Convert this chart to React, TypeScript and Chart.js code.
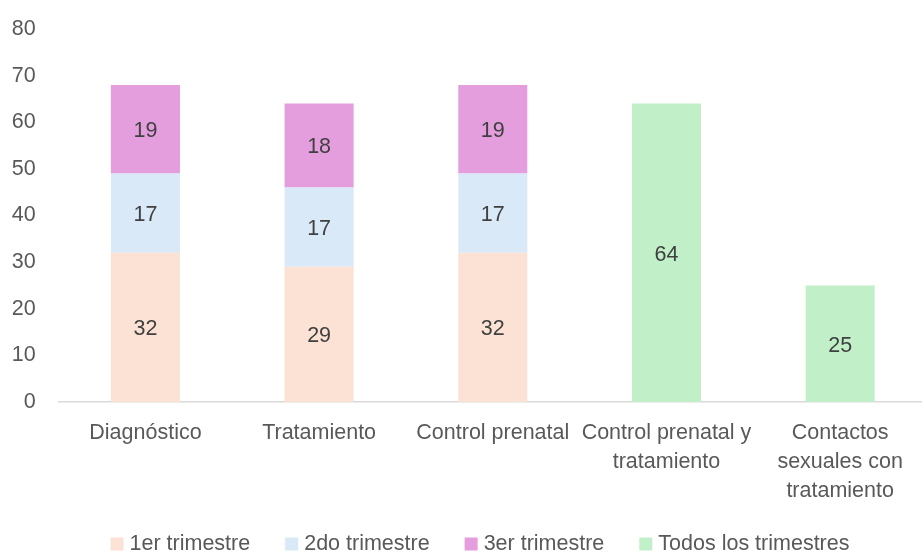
import React, { useEffect, useRef } from "react";
import { Chart, registerables } from "chart.js";

Chart.register(...registerables);

const categories: (string | string[])[] = [
  "Diagnóstico",
  "Tratamiento",
  "Control prenatal",
  ["Control prenatal y", "tratamiento"],
  ["Contactos", "sexuales con", "tratamiento"],
];
const primerTrimestre = [32, 29, 32, null, null];
const segundoTrimestre = [17, 17, 17, null, null];
const tercerTrimestre = [19, 18, 19, null, null];
const todosTrimestres = [null, null, null, 64, 25];
const yTicks = [0, 10, 20, 30, 40, 50, 60, 70, 80];

const FONT = "'Liberation Sans', Arial, sans-serif";
const FONT_SIZE = 21.5;

const dataLabels = {
  id: "dataLabels",
  afterDatasetsDraw(chart: any) {
    const ctx = chart.ctx;
    ctx.save();
    ctx.font = `${FONT_SIZE}px ${FONT}`;
    ctx.fillStyle = "#404040";
    ctx.textAlign = "center";
    ctx.textBaseline = "middle";
    chart.data.datasets.forEach((ds: any, i: number) => {
      const meta = chart.getDatasetMeta(i);
      meta.data.forEach((el: any, j: number) => {
        const v = ds.data[j];
        if (v === null || v === undefined) return;
        const y = (el.y + el.base) / 2;
        ctx.fillText(String(v), el.x, y + 2);
      });
    });
    ctx.restore();
  },
};

// Legend drawn at the bottom, Excel-style
const LEGEND_BOX = 13;
const LEGEND_TEXT_GAP = 6;
const LEGEND_ITEM_GAP = 35;
const LEGEND_CENTER = 480;
const LEGEND_FROM_BOTTOM = 9;

const bottomLegend = {
  id: "bottomLegend",
  afterDraw(chart: any) {
    const ctx = chart.ctx;
    ctx.save();
    ctx.font = `${FONT_SIZE}px ${FONT}`;
    ctx.textBaseline = "middle";
    ctx.textAlign = "left";
    const items = chart.data.datasets.map((ds: any) => ({
      text: ds.label,
      color: ds.backgroundColor,
      w: ctx.measureText(ds.label).width,
    }));
    const total =
      items.reduce((s: number, it: any) => s + LEGEND_BOX + LEGEND_TEXT_GAP + it.w, 0) +
      LEGEND_ITEM_GAP * (items.length - 1);
    let x = LEGEND_CENTER - total / 2;
    const cy = chart.height - LEGEND_FROM_BOTTOM;
    items.forEach((it: any) => {
      ctx.fillStyle = it.color;
      ctx.fillRect(x, cy - LEGEND_BOX / 2 + 1, LEGEND_BOX, LEGEND_BOX);
      ctx.fillStyle = "#595959";
      ctx.fillText(it.text, x + LEGEND_BOX + LEGEND_TEXT_GAP, cy + 1);
      x += LEGEND_BOX + LEGEND_TEXT_GAP + it.w + LEGEND_ITEM_GAP;
    });
    ctx.restore();
  },
};

export default function App() {
  const ref = useRef<HTMLCanvasElement>(null);
  useEffect(() => {
    document.body.style.margin = "0";
    document.body.style.overflow = "hidden";
    const chart = new Chart(ref.current!, {
      type: "bar",
      data: {
        labels: categories,
        datasets: [
          { label: "1er trimestre", data: primerTrimestre, backgroundColor: "#FBE2D5" },
          { label: "2do trimestre", data: segundoTrimestre, backgroundColor: "#DAE9F8" },
          { label: "3er trimestre", data: tercerTrimestre, backgroundColor: "#E49EDD" },
          { label: "Todos los trimestres", data: todosTrimestres, backgroundColor: "#C1F0C8" },
        ],
      },
      options: {
        animation: false,
        responsive: true,
        maintainAspectRatio: false,
        datasets: { bar: { barPercentage: 0.5, categoryPercentage: 0.795 } },
        layout: { padding: { left: 10, top: 29, right: 0, bottom: 52 } },
        plugins: {
          tooltip: { enabled: false },
          legend: { display: false },
        },
        scales: {
          x: {
            stacked: true,
            grid: { display: false, drawTicks: false },
            border: { display: true, color: "#D9D9D9", width: 1.5 },
            ticks: {
              color: "#595959",
              font: { family: FONT, size: FONT_SIZE, lineHeight: 1.36 },
              padding: 16,
              maxRotation: 0,
              autoSkip: false,
            },
            afterFit: (axis: any) => {
              axis.height = 98;
              axis.paddingLeft = 0;
              axis.paddingRight = 0;
            },
          },
          y: {
            stacked: true,
            min: 0,
            max: 80,
            afterBuildTicks: (axis: any) => {
              axis.ticks = yTicks.map((v) => ({ value: v }));
            },
            grid: { display: false, drawTicks: false },
            border: { display: false },
            ticks: {
              color: "#595959",
              font: { family: FONT, size: FONT_SIZE },
              padding: 23,
            },
            afterFit: (axis: any) => {
              axis.width = 48.6;
              axis.paddingTop = 0;
              axis.paddingBottom = 0;
            },
          },
        },
      },
      plugins: [dataLabels, bottomLegend],
    });
    return () => chart.destroy();
  }, []);
  return (
    <div style={{ position: "fixed", left: 0, top: 0, width: 922, height: 552, overflow: "hidden", background: "#fff" }}>
      <div style={{ position: "relative", width: 927, height: 552 }}>
        <canvas ref={ref} />
      </div>
    </div>
  );
}
